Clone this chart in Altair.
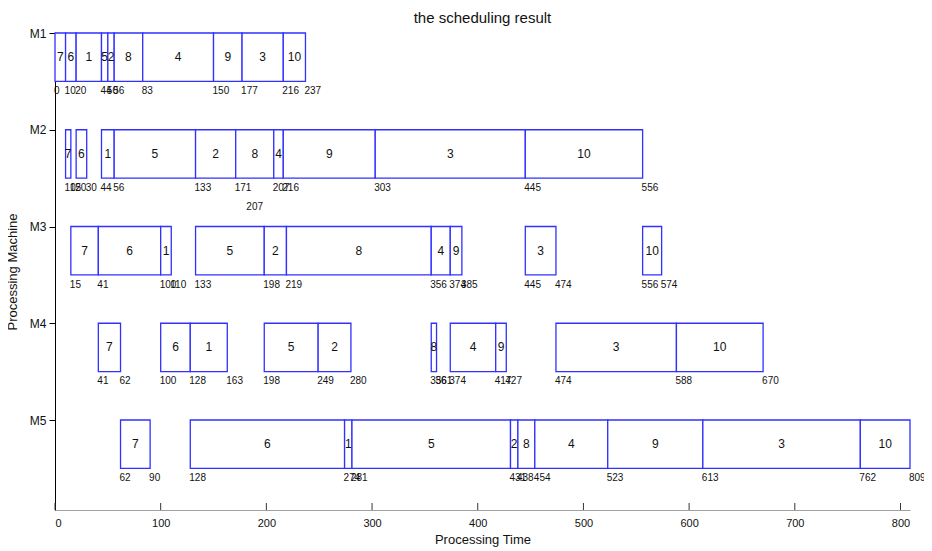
import altair as alt
import pandas as pd

machines = ["M1", "M2", "M3", "M4", "M5"]
jobs = [7, 6, 1, 5, 2, 8, 4, 9, 3, 10]

m1_start = [0, 10, 20, 44, 50, 56, 83, 150, 177, 216]
m1_end = [10, 20, 44, 50, 56, 83, 150, 177, 216, 237]
m2_start = [10, 20, 44, 56, 133, 171, 207, 216, 303, 445]
m2_end = [15, 30, 56, 133, 171, 207, 216, 303, 445, 556]
m3_start = [15, 41, 100, 133, 198, 219, 356, 374, 445, 556]
m3_end = [41, 100, 110, 198, 219, 356, 374, 385, 474, 574]
m4_start = [41, 100, 128, 198, 249, 356, 374, 417, 474, 588]
m4_end = [62, 128, 163, 249, 280, 361, 417, 427, 588, 670]
m5_start = [62, 128, 274, 281, 431, 438, 454, 523, 613, 762]
m5_end = [90, 274, 281, 431, 438, 454, 523, 613, 762, 809]

# extra staggered label seen under machine M2
extra_label_machine = 2
extra_label_value = 207
extra_label_x = 182

x_ticks = [0, 100, 200, 300, 400, 500, 600, 700, 800]

starts = [m1_start, m2_start, m3_start, m4_start, m5_start]
ends = [m1_end, m2_end, m3_end, m4_end, m5_end]

rows = []
labels = []
for mi, (s_list, e_list) in enumerate(zip(starts, ends), start=1):
    seen = set()
    for job, s, e in zip(jobs, s_list, e_list):
        rows.append({"machine": mi, "job": str(job), "start": s, "end": e,
                     "y0": mi, "y1": mi + 0.5, "mid": (s + e) / 2, "ymid": mi + 0.25})
        for v in (s, e):
            if v not in seen:
                seen.add(v)
                labels.append({"x": v, "y": mi + 0.6, "text": str(v)})
labels.append({"x": extra_label_x, "y": extra_label_machine + 0.8, "text": str(extra_label_value)})

df = pd.DataFrame(rows)
lab = pd.DataFrame(labels)
ticks = pd.DataFrame({"t": x_ticks})

W, H = 855, 477
FONT = "Liberation Sans"

xscale = alt.Scale(domain=[0, 809], nice=False, zero=False)
yscale = alt.Scale(domain=[1, 5.93], reverse=True, nice=False, zero=False)

xaxis = alt.Axis(values=x_ticks, title="Processing Time", grid=False, tickSize=0,
                 labelPadding=7, labelFontSize=11, titleFontSize=13,
                 labelFont=FONT, titleFont=FONT, titleFontWeight="normal",
                 titleY=36, titleBaseline="bottom",
                 domainColor="#a0a0a0", labelColor="#111111", titleColor="#111111")
yaxis = alt.Axis(values=[1, 2, 3, 4, 5], labelExpr="'M' + datum.value",
                 title="Processing Machine", grid=False, tickSize=6, labelPadding=3,
                 labelFontSize=12, titleFontSize=13, labelFont=FONT, titleFont=FONT,
                 titleFontWeight="normal", domainColor="#000000", tickColor="#000000",
                 labelColor="#111111", titleColor="#111111",
                 titleX=-43, titleY=H / 2, titleAngle=270, titleAlign="center",
                 titleBaseline="middle")

boxes = alt.Chart(df).mark_rect(fill="white", stroke="#3030ff", strokeWidth=1.3).encode(
    x=alt.X("start:Q", scale=xscale, axis=xaxis),
    x2="end:Q",
    y=alt.Y("y0:Q", scale=yscale, axis=yaxis),
    y2="y1:Q",
)

job_text = alt.Chart(df).mark_text(fontSize=12, font=FONT, color="#111111",
                                   align="center", baseline="middle").encode(
    x=alt.X("mid:Q", scale=xscale),
    y=alt.Y("ymid:Q", scale=yscale),
    text="job:N",
)

num_text = alt.Chart(lab).mark_text(fontSize=10, font=FONT, color="#111111",
                                    align="left", baseline="middle", dx=-1).encode(
    x=alt.X("x:Q", scale=xscale),
    y=alt.Y("y:Q", scale=yscale),
    text="text:N",
)

tick_rules = alt.Chart(ticks).mark_rule(color="#333333", strokeWidth=1).encode(
    x=alt.X("t:Q", scale=xscale),
    y=alt.value(H),
    y2=alt.value(H - 7),
)

chart = alt.layer(boxes, job_text, num_text, tick_rules).properties(
    width=W, height=H,
    title=alt.TitleParams("the scheduling result", fontSize=15, font=FONT,
                          fontWeight="normal", anchor="middle", offset=1,
                          frame="group", color="#111111"),
    autosize=alt.AutoSizeParams(type="none"),
    padding={"left": 47, "top": 25, "right": 14, "bottom": 40},
).configure_view(stroke=None)

chart.save("out.html", embed_options={"renderer": "svg", "actions": False})
